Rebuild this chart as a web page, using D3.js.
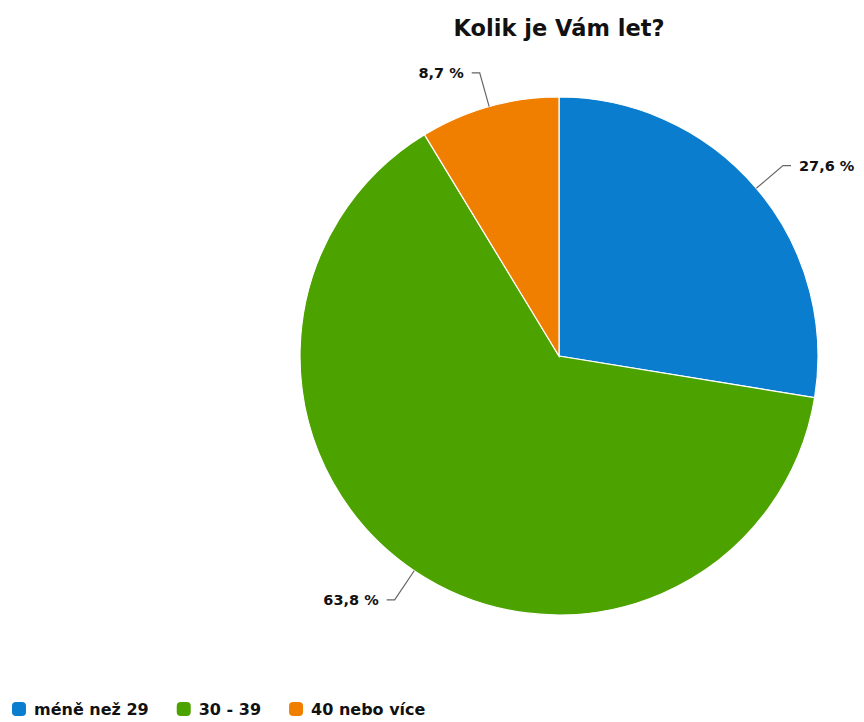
<!DOCTYPE html>
<html>
<head>
<meta charset="utf-8">
<script src="https://cdn.jsdelivr.net/npm/d3@7"></script>
<style>
  html, body { margin: 0; padding: 0; background: #fff; }
  svg { display: block; }
  text { font-family: "DejaVu Sans", sans-serif; font-weight: bold; fill: #111; }
</style>
</head>
<body>
<svg id="chart" width="864" height="722"></svg>
<script>
// Age groups and their share of respondents (%)
const categories = ["méně než 29", "30 - 39", "40 nebo více"];
const values = [27.6, 63.8, 8.7];
const labels = ["27,6 %", "63,8 %", "8,7 %"];
const colors = ["#0a7dcf", "#4ca300", "#f07f00"];
const title = "Kolik je Vám let?";

const svg = d3.select("#chart");
const cx = 559, cy = 356, r = 259;

svg.append("text")
  .attr("x", cx).attr("y", 36)
  .attr("text-anchor", "middle")
  .style("font-size", "22.5px")
  .text(title);

const pie = d3.pie().sort(null).value(d => d)(values);
const arc = d3.arc().innerRadius(0).outerRadius(r);

const g = svg.append("g").attr("transform", `translate(${cx},${cy})`);
g.selectAll("path.slice")
  .data(pie)
  .join("path")
  .attr("class", "slice")
  .attr("d", arc)
  .attr("fill", (d, i) => colors[i])
  .attr("stroke", "#fff")
  .attr("stroke-width", 1.2);

// Data labels with bent connectors
const outR = r + 35;
pie.forEach((d, i) => {
  const a = (d.startAngle + d.endAngle) / 2;
  const p0 = [r * Math.sin(a), -r * Math.cos(a)];
  const p1 = [outR * Math.sin(a), -outR * Math.cos(a)];
  const right = Math.sin(a) >= 0;
  const p2 = [p1[0] + (right ? 8 : -8), p1[1]];
  g.append("path")
    .attr("d", d3.line()([p0, p1, p2]))
    .attr("fill", "none")
    .attr("stroke", "#666")
    .attr("stroke-width", 1.2);
  g.append("text")
    .attr("x", p2[0] + (right ? 8 : -8))
    .attr("y", p2[1])
    .attr("dy", "0.35em")
    .attr("text-anchor", right ? "start" : "end")
    .style("font-size", "14.5px")
    .text(labels[i]);
});

// Legend along the bottom
const legend = svg.append("g").attr("transform", "translate(12,709)");
let x = 0;
categories.forEach((c, i) => {
  const item = legend.append("g").attr("transform", `translate(${x},0)`);
  item.append("rect")
    .attr("x", 0).attr("y", -7)
    .attr("width", 14).attr("height", 14)
    .attr("rx", 4)
    .attr("fill", colors[i]);
  const t = item.append("text")
    .attr("x", 22).attr("y", 0)
    .attr("dy", "0.35em")
    .style("font-size", "16px")
    .text(c);
  x += 22 + t.node().getComputedTextLength() + 28;
});
</script>
</body>
</html>
